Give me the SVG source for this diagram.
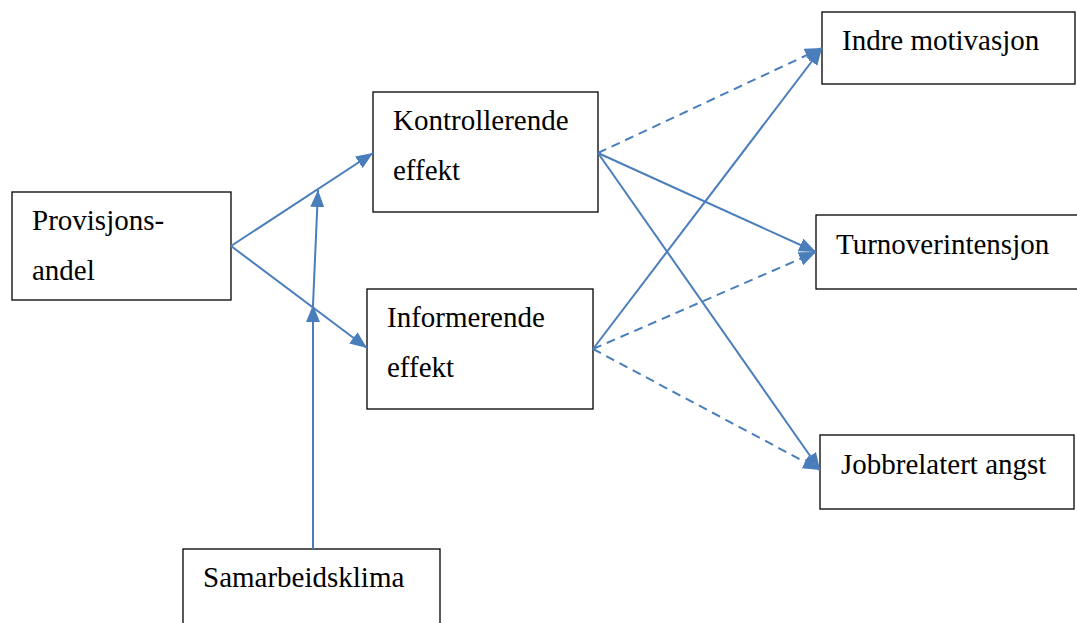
<svg xmlns="http://www.w3.org/2000/svg" width="1077" height="623" viewBox="0 0 1077 623">
<style>
text{font-family:'Liberation Serif',serif;font-size:29px;fill:#000}
.box{fill:#fff;stroke:#000;stroke-width:1.3}
</style>
<defs>
<marker id="ah" markerUnits="userSpaceOnUse" markerWidth="20" markerHeight="16" refX="17" refY="7" orient="auto">
<path d="M0,0 L17,7 L0,14 Z" fill="#4A7EBB"/>
</marker>
</defs>
<rect width="1077" height="623" fill="#fff"/>
<g id="n-provisjon"><rect class="box" x="12" y="192" width="219" height="108"/><text font-family="Liberation Serif" x="32" y="230">Provisjons-</text><text font-family="Liberation Serif" x="32" y="280">andel</text></g>
<g id="n-kontroll"><rect class="box" x="373" y="92" width="225" height="120"/><text font-family="Liberation Serif" x="393" y="130">Kontrollerende</text><text font-family="Liberation Serif" x="393" y="180">effekt</text></g>
<g id="n-inform"><rect class="box" x="367" y="289" width="226" height="120"/><text font-family="Liberation Serif" x="387" y="327">Informerende</text><text font-family="Liberation Serif" x="387" y="377">effekt</text></g>
<g id="n-samarbeid"><rect class="box" x="183" y="549" width="257" height="80"/><text font-family="Liberation Serif" x="203" y="587">Samarbeidsklima</text></g>
<g id="n-indre"><rect class="box" x="822" y="12" width="253" height="72"/><text font-family="Liberation Serif" x="842" y="50">Indre motivasjon</text></g>
<g id="n-turnover"><rect class="box" x="816" y="215" width="262" height="74"/><text font-family="Liberation Serif" x="836" y="254">Turnoverintensjon</text></g>
<g id="n-jobb"><rect class="box" x="820" y="435" width="254" height="74"/><text font-family="Liberation Serif" x="841" y="474">Jobbrelatert angst</text></g>
<g id="connectors" fill="none" stroke="#4A7EBB" stroke-width="2" marker-end="url(#ah)">
<line x1="231" y1="246" x2="373" y2="153"/>
<line x1="231" y1="246" x2="367" y2="348"/>
<line x1="313" y1="549" x2="313" y2="305"/>
<line x1="313" y1="305" x2="318" y2="190"/>
<line stroke-dasharray="9 6" x1="598" y1="153" x2="822" y2="48"/>
<line x1="598" y1="153" x2="816" y2="252"/>
<line x1="598" y1="153" x2="820" y2="470"/>
<line x1="593" y1="349" x2="822" y2="48"/>
<line stroke-dasharray="9 6" x1="593" y1="349" x2="816" y2="252"/>
<line stroke-dasharray="9 6" x1="593" y1="349" x2="820" y2="470"/>
</g>
</svg>
